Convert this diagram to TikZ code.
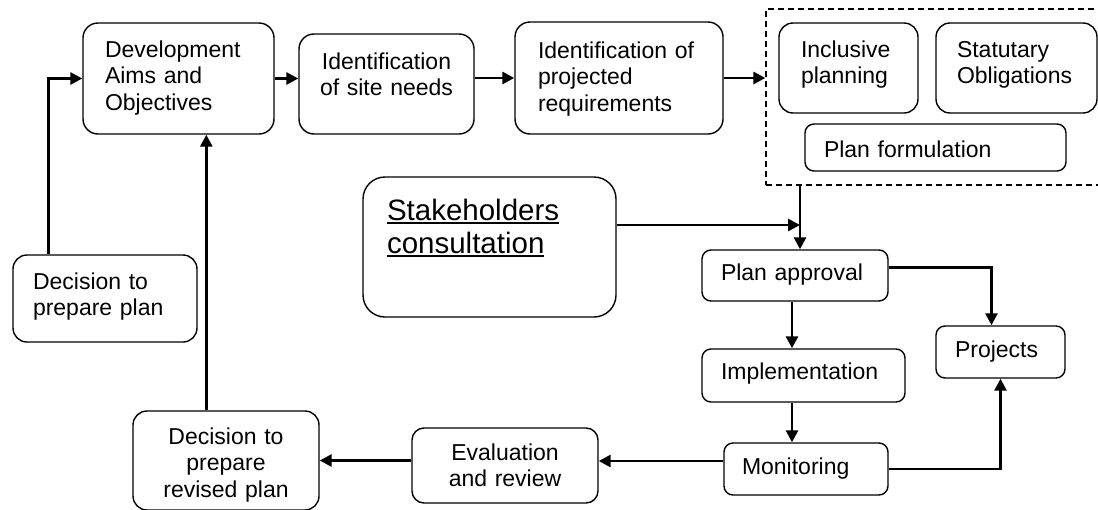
\documentclass[tikz,border=0pt]{standalone}
\usepackage{fontspec}
\setmainfont{Liberation Sans}
\usetikzlibrary{arrows.meta}
\newcommand{\stakeul}[1]{\leavevmode\setbox0\hbox{#1}\rlap{\rule[-3.5pt]{\wd0}{1.8pt}}\box0}

\begin{document}
\begin{tikzpicture}[x=1pt,y=-1pt,
    font=\fontsize{23}{26.5}\selectfont,
    >={Triangle[length=12pt,width=12pt]},
    box/.style={draw,line width=1.4pt,rounded corners=12pt,inner ysep=0pt,align=left},
    cbox/.style={box,align=center},
    conn/.style={->,line width=2.8pt}]
    \useasboundingbox (0,0) rectangle (1098,509);

    % top row
    \node[box,rounded corners=15pt,inner xsep=22pt,text width=147pt,text height=34pt,text depth=77pt] (devaims) at (178.5,78.5) {Development\\Aims and\\Objectives};
    \node[cbox,rounded corners=15pt,inner xsep=10pt,text width=155pt,text height=35pt,text depth=65pt] (siteneeds) at (386.5,84) {Identification\\of site needs};
    \node[box,rounded corners=15pt,inner xsep=23pt,text width=162pt,text height=36pt,text depth=76pt] (projreq) at (619,78) {Identification of\\projected\\requirements};

    % planning group
    \node[draw,dashed,dash pattern=on 6pt off 4pt,line width=1.2pt,minimum width=336pt,minimum height=176pt,inner sep=0pt] (planning) at (934,97) {};
    \node[box,rounded corners=14pt,inner xsep=22pt,text width=95pt,text height=34pt,text depth=56pt] (inclusive) at (848.5,68) {Inclusive\\planning};
    \node[box,rounded corners=14pt,inner xsep=21pt,text width=119pt,text height=34pt,text depth=56pt] (statutary) at (1016.5,68) {Statutary\\Obligations};
    \node[box,rounded corners=9pt,inner xsep=19pt,text width=223pt,text height=33pt,text depth=14pt] (planform) at (935.5,147.5) {Plan formulation};

    % stakeholders
    \node[box,rounded corners=22pt,inner xsep=24pt,text width=205pt,text height=43pt,text depth=97pt,font=\fontsize{29.5}{33}\selectfont] (stake) at (489.5,247) {\stakeul{Stakeholders}\\\stakeul{consultation}};

    % left side
    \node[box,rounded corners=14pt,inner xsep=20pt,text width=144pt,text height=34pt,text depth=53pt] (decision) at (105,298.5) {Decision to\\prepare plan};
    \node[cbox,rounded corners=14pt,inner xsep=10pt,text width=166pt,text height=33pt,text depth=66pt] (revised) at (226,460.5) {Decision to\\prepare\\revised plan};
    \node[cbox,rounded corners=12pt,inner xsep=10pt,text width=166pt,text height=32pt,text depth=43pt] (evaluation) at (505,465.5) {Evaluation\\and review};

    % right side
    \node[box,rounded corners=9pt,inner xsep=19pt,text width=148pt,text height=30pt,text depth=21pt] (planapproval) at (795,275.5) {Plan approval};
    \node[box,rounded corners=9pt,inner xsep=19pt,text width=165pt,text height=30pt,text depth=23pt] (implementation) at (803.5,375.5) {Implementation};
    \node[box,rounded corners=9pt,inner xsep=18pt,text width=128pt,text height=31pt,text depth=21pt] (monitoring) at (806,469) {Monitoring};
    \node[box,rounded corners=9pt,inner xsep=19pt,text width=91pt,text height=31pt,text depth=21pt] (projects) at (1000.5,352) {Projects};

    % connectors
    \coordinate (revup) at ([xshift=74pt]revised.north west);
    \coordinate (decup) at ([xshift=36pt]decision.north west);
    \coordinate (merge) at (800,225);
    \coordinate (spine) at (792,300);
    \coordinate (appout) at ([yshift=8pt]planapproval.east);
    \coordinate (projin) at ([xshift=-9pt]projects.north);
    \coordinate (monout) at ([yshift=8pt]monitoring.west);

    \draw[conn] (decup) |- (devaims.west);
    \draw[conn] (revup) -- (revup |- devaims.south);
    \draw[conn] (devaims.east) -- (devaims.east -| siteneeds.west);
    \draw[conn] (projreq.west -| siteneeds.east) -- (projreq.west);
    \draw[conn] (projreq.east) -- (projreq.east -| planning.west);
    \draw[conn] (merge |- planning.south) -- (merge |- planapproval.north);
    \draw[conn] (stake.east |- merge) -- (merge);
    \draw[conn] (spine |- planapproval.south) -- (spine |- implementation.north);
    \draw[conn] (spine |- implementation.south) -- (spine |- monitoring.north);
    \draw[conn] (appout) -| (projin);
    \draw[conn] (monitoring.east) -| (projects.south);
    \draw[conn] (monout) -- (monout -| evaluation.east);
    \draw[conn] (revised.east -| evaluation.west) -- (revised.east);
\end{tikzpicture}
\end{document}
